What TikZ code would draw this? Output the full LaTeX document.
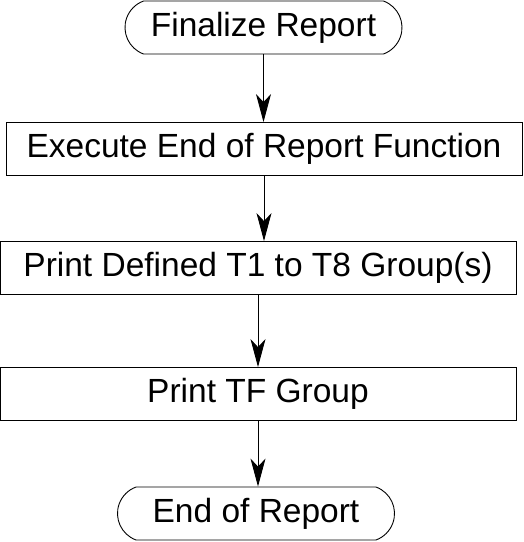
\documentclass[tikz,border=0pt]{standalone}
\usepackage{fontspec}
\setmainfont{Liberation Sans}
\usetikzlibrary{shapes.misc,arrows.meta}

\begin{document}
\begin{tikzpicture}[
    x=1pt, y=-1pt,
    font=\fontsize{33.5}{38}\selectfont,
    >={Stealth[length=28pt, width=15pt, inset=8pt]},
    term/.style={rounded rectangle, rounded rectangle arc length=140, draw, line width=0.9pt, minimum width=277pt, minimum height=53pt, inner sep=0pt},
    procbox/.style={rectangle, draw, line width=0.9pt, minimum width=516pt, minimum height=53pt, inner sep=0pt}
]
\useasboundingbox (0,0) rectangle (524,542);

% Terminals & Steps
\node[term] (start) at (263.5, 27.5) {Finalize Report};
\node[procbox] (exec) at (264, 149) {Execute End of Report Function};
\node[procbox] (tgroups) at (258, 268) {Print Defined T1 to T8 Group(s)};
\node[procbox] (tfgroup) at (258, 394) {Print TF Group};
\node[term] (stop) at (256, 513.5) {End of Report};

% Arrows
\draw[->, line width=0.9pt] (start.south) -- (start.south |- exec.north);
\draw[->, line width=0.9pt] (exec.south) -- (exec.south |- tgroups.north);
\draw[->, line width=0.9pt] (tgroups.south) -- (tgroups.south |- tfgroup.north);
\draw[->, line width=0.9pt] (tfgroup.south) -- (tfgroup.south |- stop.north);

\end{tikzpicture}
\end{document}
